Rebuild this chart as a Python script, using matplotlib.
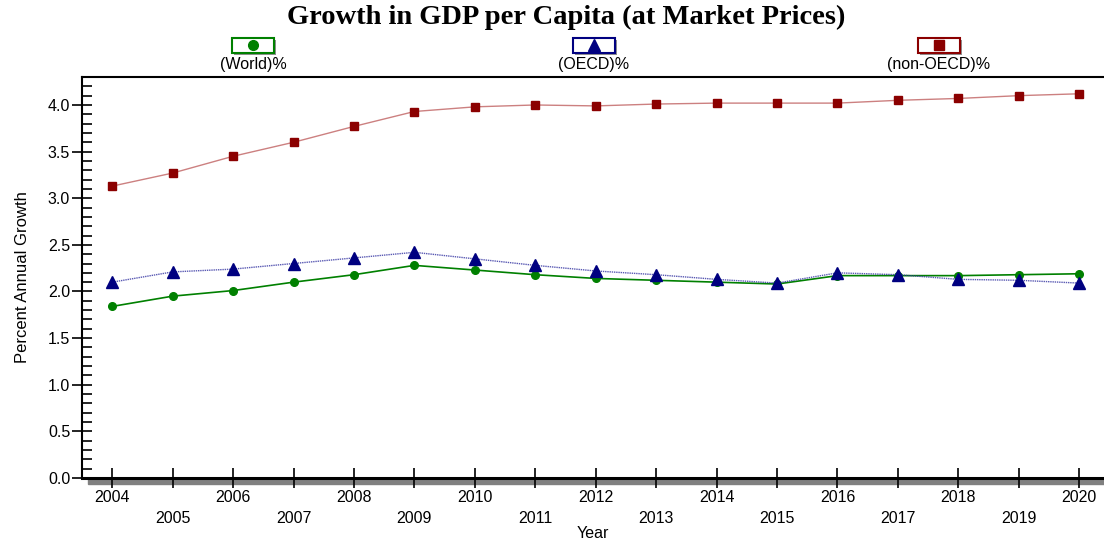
import matplotlib
matplotlib.use('Agg')
import matplotlib.pyplot as plt
from matplotlib.patches import Rectangle
from matplotlib.lines import Line2D
from matplotlib.ticker import MultipleLocator
import numpy as np

plt.rcParams['font.family'] = ['Liberation Sans', 'DejaVu Sans']

years = list(range(2004, 2021))
world = [1.84, 1.95, 2.01, 2.10, 2.18, 2.28, 2.23, 2.18, 2.14, 2.12, 2.10, 2.08, 2.17, 2.17, 2.17, 2.18, 2.19]
oecd = [2.10, 2.21, 2.24, 2.30, 2.36, 2.42, 2.35, 2.28, 2.22, 2.18, 2.13, 2.09, 2.20, 2.18, 2.13, 2.12, 2.09]
non_oecd = [3.13, 3.27, 3.45, 3.60, 3.77, 3.93, 3.98, 4.00, 3.99, 4.01, 4.02, 4.02, 4.02, 4.05, 4.07, 4.10, 4.12]
labels = ['(World)%', '(OECD)%', '(non-OECD)%']

W, H = 1104, 544
fig = plt.figure(figsize=(W / 100, H / 100), dpi=100)
ax = fig.add_axes([82 / W, (H - 478) / H, 1 - 82 / W, (478 - 77) / H])

ax.plot(years, world, color='#008000', lw=1.2, marker='o', ms=5.5, zorder=3)
# oecd: light dotted line, solid markers on top
ax.plot(years, oecd, color='#3030a0', lw=1, ls=(0, (1, 0.6)), alpha=0.8, zorder=4)
ax.plot(years, oecd, ls='none', marker='^', ms=8.5, color='#000080', zorder=5)
ax.plot(years, non_oecd, color='#cc8080', lw=1, zorder=3)
ax.plot(years, non_oecd, ls='none', marker='s', ms=6, color='#8b0000', zorder=3)

ax.set_xlim(2003.5, 2020.41)
ax.set_ylim(0, 4.3)

# y ticks: majors cross, minors inside
ax.yaxis.set_minor_locator(MultipleLocator(0.1))
ax.set_yticks(np.arange(0, 4.01, 0.5))
ax.set_yticklabels(['%.1f' % v for v in np.arange(0, 4.01, 0.5)], fontsize=11.5)
ax.tick_params(axis='y', which='major', direction='inout', length=15, width=1.2, pad=1)
ax.tick_params(axis='y', which='minor', direction='in', length=7.5, width=1.2)

# x ticks: even years on first row, odd years lower
ax.set_xticks(years[::2])
ax.set_xticklabels([str(y) for y in years[::2]], fontsize=11.5)
ax.set_xticks(years[1::2], minor=True)
ax.set_xticklabels([str(y) for y in years[1::2]], minor=True, fontsize=11.5)
ax.tick_params(axis='x', which='both', direction='inout', length=15, width=1.2)
ax.tick_params(axis='x', which='major', pad=1)
ax.tick_params(axis='x', which='minor', pad=16)

ax.spines['right'].set_visible(False)
ax.spines['top'].set_linewidth(1.5)
ax.spines['left'].set_linewidth(1.5)
ax.spines['bottom'].set_linewidth(2.2)

ax.set_xlabel('Year', fontsize=11.5, labelpad=0)
ax.set_ylabel('Percent Annual Growth', fontsize=12, labelpad=13)

# shadow under bottom axis
fig.add_artist(Rectangle((88 / W, (H - 484) / H), 1 - 88 / W, 5 / H,
                         transform=fig.transFigure, color='#808080', zorder=0))

fig.text(566 / W, 1 - 17 / H, 'Growth in GDP per Capita (at Market Prices)',
         family='Liberation Serif', fontweight='bold', fontsize=20.5,
         ha='center', va='center')

# legend boxes
cols = ['#008000', '#000080', '#8b0000']
marks = ['o', '^', 's']
xs = [253, 594, 939]
for x, c, m, lab in zip(xs, cols, marks, labels):
    fig.add_artist(Rectangle(((x - 19) / W, (H - 55) / H), 42 / W, 15 / H,
                             transform=fig.transFigure, fc='#909090', ec='none'))
    fig.add_artist(Rectangle(((x - 21) / W, (H - 53) / H), 42 / W, 15 / H,
                             transform=fig.transFigure, fc='white', ec=c, lw=1.5))
    fig.add_artist(Line2D([x / W], [(H - 45) / H], transform=fig.transFigure,
                          marker=m, color=c, ms=9 if m == '^' else 7, ls='none'))
    fig.text(x / W, 1 - 65 / H, lab, fontsize=11.5, ha='center', va='center')

fig.savefig('out.png', dpi=100)
